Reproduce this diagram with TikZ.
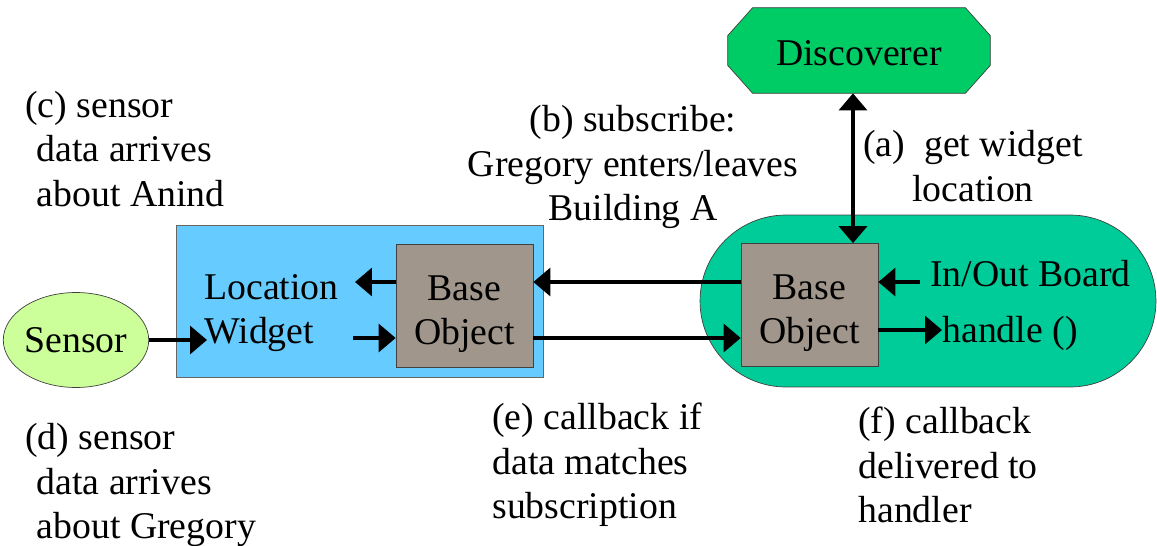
\documentclass[tikz,border=0pt]{standalone}
\usepackage{fontspec}
\setmainfont{Liberation Serif}
\usetikzlibrary{arrows.meta,shapes.geometric}
\definecolor{discgreen}{RGB}{0,204,102}
\definecolor{boardgreen}{RGB}{0,204,153}
\definecolor{basegray}{RGB}{160,150,140}
\definecolor{widgetblue}{RGB}{102,204,255}
\definecolor{sensorgreen}{RGB}{204,255,153}
\newcommand{\tallstrut}{\rule{0pt}{0.83cm}}
\tikzset{
  baseobj/.style={draw=black!75, fill=basegray, minimum width=2.74cm, minimum height=2.46cm, align=center},
  arr/.style={line width=1.9pt, -{Triangle[length=0.34cm,width=0.56cm]}},
  arrboth/.style={line width=1.9pt, {Triangle[length=0.34cm,width=0.56cm]}-{Triangle[length=0.34cm,width=0.56cm]}},
  lbl/.style={align=left, anchor=west, inner sep=0pt},
}
\begin{document}
\begin{tikzpicture}[x=0.02cm, y=-0.02cm, font=\fontsize{21.5}{25.3}\selectfont]
  \useasboundingbox (0,0) rectangle (1157,545);

  \node (disc) [minimum width=5.24cm, minimum height=1.7cm] at (859,50.5) {};
  \draw [draw=black!75, fill=discgreen] ([xshift=0.5cm]disc.north west) -- ([xshift=-0.5cm]disc.north east)
     -- ([yshift=-0.56cm]disc.north east) -- ([yshift=0.56cm]disc.south east)
     -- ([xshift=-0.5cm]disc.south east) -- ([xshift=0.5cm]disc.south west)
     -- ([yshift=0.56cm]disc.south west) -- ([yshift=-0.56cm]disc.north west) -- cycle;
  \node (disctxt) at (859,53) {Discoverer};
  \node (board) [draw=black!75, fill=boardgreen, rounded corners=1.72cm,
     minimum width=9.12cm, minimum height=3.44cm] at (928,301) {};
  \node (widget) [draw=black!60, fill=widgetblue, minimum width=7.34cm, minimum height=3.04cm] at (359.5,301) {};
  \node (sensor) [ellipse, draw=black!75, fill=sensorgreen, minimum width=2.74cm, minimum height=1.9cm,
     inner sep=0pt] at (76,340) {Sensor};
  \node (baseL) [baseobj] at (464.5,305.5) {\tallstrut Base\\Object};
  \node (baseR) [baseobj] at (809.5,305) {\tallstrut Base\\Object};

  \node (loc) [lbl] at (204,313) {Location\\Widget};
  \node (inout) [anchor=base west, inner sep=0pt] at (930,286) {In/Out Board};
  \node (handle) [anchor=base west, inner sep=0pt] at (942,342) {handle ()};

  \node (geta) [align=center, inner sep=0pt] at (973,166) {(a)~~get widget\\location};
  \node (subs) [align=center, inner sep=0pt] at (633,167) {(b) subscribe:\\Gregory enters/leaves\\Building A};
  \node (anind) [lbl] at (25,149) {(c) sensor\\\hspace*{0.3em}data arrives\\\hspace*{0.3em}about Anind};
  \node (greg) [lbl] at (25,485) {(d) sensor\\\hspace*{0.3em}data arrives\\\hspace*{0.3em}about Gregory};
  \node (cbe) [lbl] at (492,465) {(e) callback if\\data matches\\subscription};
  \node (cbf) [lbl] at (858,465) {(f) callback\\delivered to\\handler};

  \coordinate (up) at (355,282);
  \coordinate (dn) at (353,338);
  \coordinate (sw) at (207,338);
  \coordinate (io) at (920,282);
  \coordinate (hd) at (942,330);
  \coordinate (ax) at (853,0);

  \draw [arr] (sensor.east) -- (sensor.east -| sw);
  \draw [arr] (baseL.west |- up) -- (up);
  \draw [arr] (dn) -- (baseL.west |- dn);
  \draw [arr] (baseR.west |- up) -- (baseL.east |- up);
  \draw [arr] (baseL.east |- dn) -- (baseR.west |- dn);
  \draw [arr] (io) -- (baseR.east |- io);
  \draw [arr] (baseR.east |- hd) -- (hd);
  \draw [arrboth] (disc.south -| ax) -- (baseR.north -| ax);
\end{tikzpicture}
\end{document}
